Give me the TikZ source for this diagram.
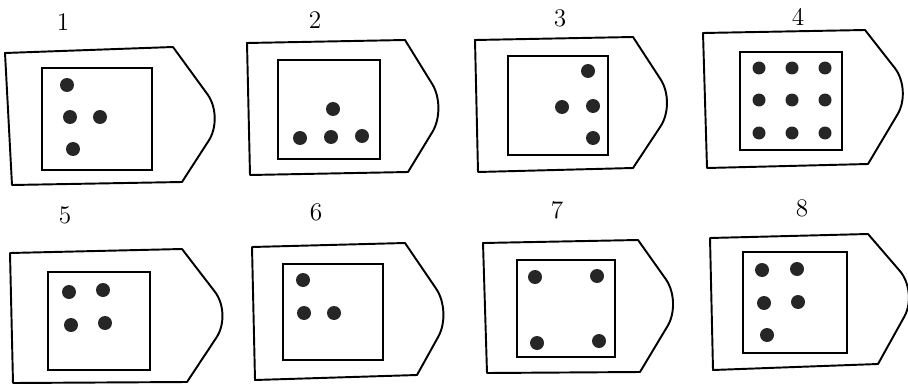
\documentclass[tikz,border=0pt]{standalone}
\usepackage{tikz}

\begin{document}
\begin{tikzpicture}[x=0.02cm, y=-0.02cm,
  tag/.style={draw, line width=1.1pt, line join=round},
  win/.style={draw, line width=1pt},
  dot/.style={fill=black!85},
  num/.style={font=\Large}
]
\clip (0,0) rectangle (908,385);

% card 1
\node[num] (n1) at (63,22) {1};
\draw[tag] (5,53) -- (173,47) [rounded corners=16pt] -- (224,117) [sharp corners] -- (182,182) -- (12,185) -- cycle;
\draw[win] (42,68) rectangle (152,170);
\foreach \p in {(67,85),(70,117),(100,117),(73,149)}
  \fill[dot] \p circle[radius=0.14cm];

% card 2
\node[num] (n2) at (315,20) {2};
\draw[tag] (247,43) -- (405,40) [rounded corners=16pt] -- (447,108) [sharp corners] -- (408,172) -- (250,175) -- cycle;
\draw[win] (278,60) rectangle (380,159);
\foreach \p in {(333,109),(300,138),(331,137),(362,136)}
  \fill[dot] \p circle[radius=0.14cm];

% card 3
\node[num] (n3) at (560,18) {3};
\draw[tag] (475,40) -- (633,37) [rounded corners=16pt] -- (676,103) [sharp corners] -- (633,168) -- (478,172) -- cycle;
\draw[win] (508,56) rectangle (608,155);
\foreach \p in {(588,71),(562,107),(593,106),(593,138)}
  \fill[dot] \p circle[radius=0.14cm];

% card 4
\node[num] (n4) at (798,17) {4};
\draw[tag] (703,33) -- (865,30) [rounded corners=16pt] -- (912,90) [sharp corners] -- (868,164) -- (707,168) -- cycle;
\draw[win] (740,52) rectangle (842,150);
\foreach \x in {759,792,825}
  \foreach \y in {68,100,133}
    \fill[dot] (\x,\y) circle[radius=0.13cm];

% card 5
\node[num] (n5) at (65,215) {5};
\draw[tag] (10,253) -- (182,249) [rounded corners=16pt] -- (232,314) [sharp corners] -- (187,382) -- (13,383) -- cycle;
\draw[win] (48,272) rectangle (150,370);
\foreach \p in {(69,292),(103,290),(71,325),(105,323)}
  \fill[dot] \p circle[radius=0.14cm];

% card 6
\node[num] (n6) at (316,212) {6};
\draw[tag] (252,247) -- (405,243) [rounded corners=16pt] -- (452,312) [sharp corners] -- (417,375) -- (255,380) -- cycle;
\draw[win] (283,264) rectangle (383,360);
\foreach \p in {(303,280),(304,313),(334,313)}
  \fill[dot] \p circle[radius=0.14cm];

% card 7
\node[num] (n7) at (557,210) {7};
\draw[tag] (483,243) -- (638,240) [rounded corners=16pt] -- (682,302) [sharp corners] -- (640,372) -- (487,373) -- cycle;
\draw[win] (517,260) rectangle (615,357);
\foreach \p in {(535,277),(597,276),(537,343),(599,341)}
  \fill[dot] \p circle[radius=0.14cm];

% card 8
\node[num] (n8) at (802,208) {8};
\draw[tag] (710,238) -- (868,234) [rounded corners=16pt] -- (918,292) [sharp corners] -- (878,364) -- (713,370) -- cycle;
\draw[win] (743,252) rectangle (847,353);
\foreach \p in {(762,270),(797,269),(764,303),(798,302),(767,335)}
  \fill[dot] \p circle[radius=0.14cm];
\end{tikzpicture}
\end{document}
